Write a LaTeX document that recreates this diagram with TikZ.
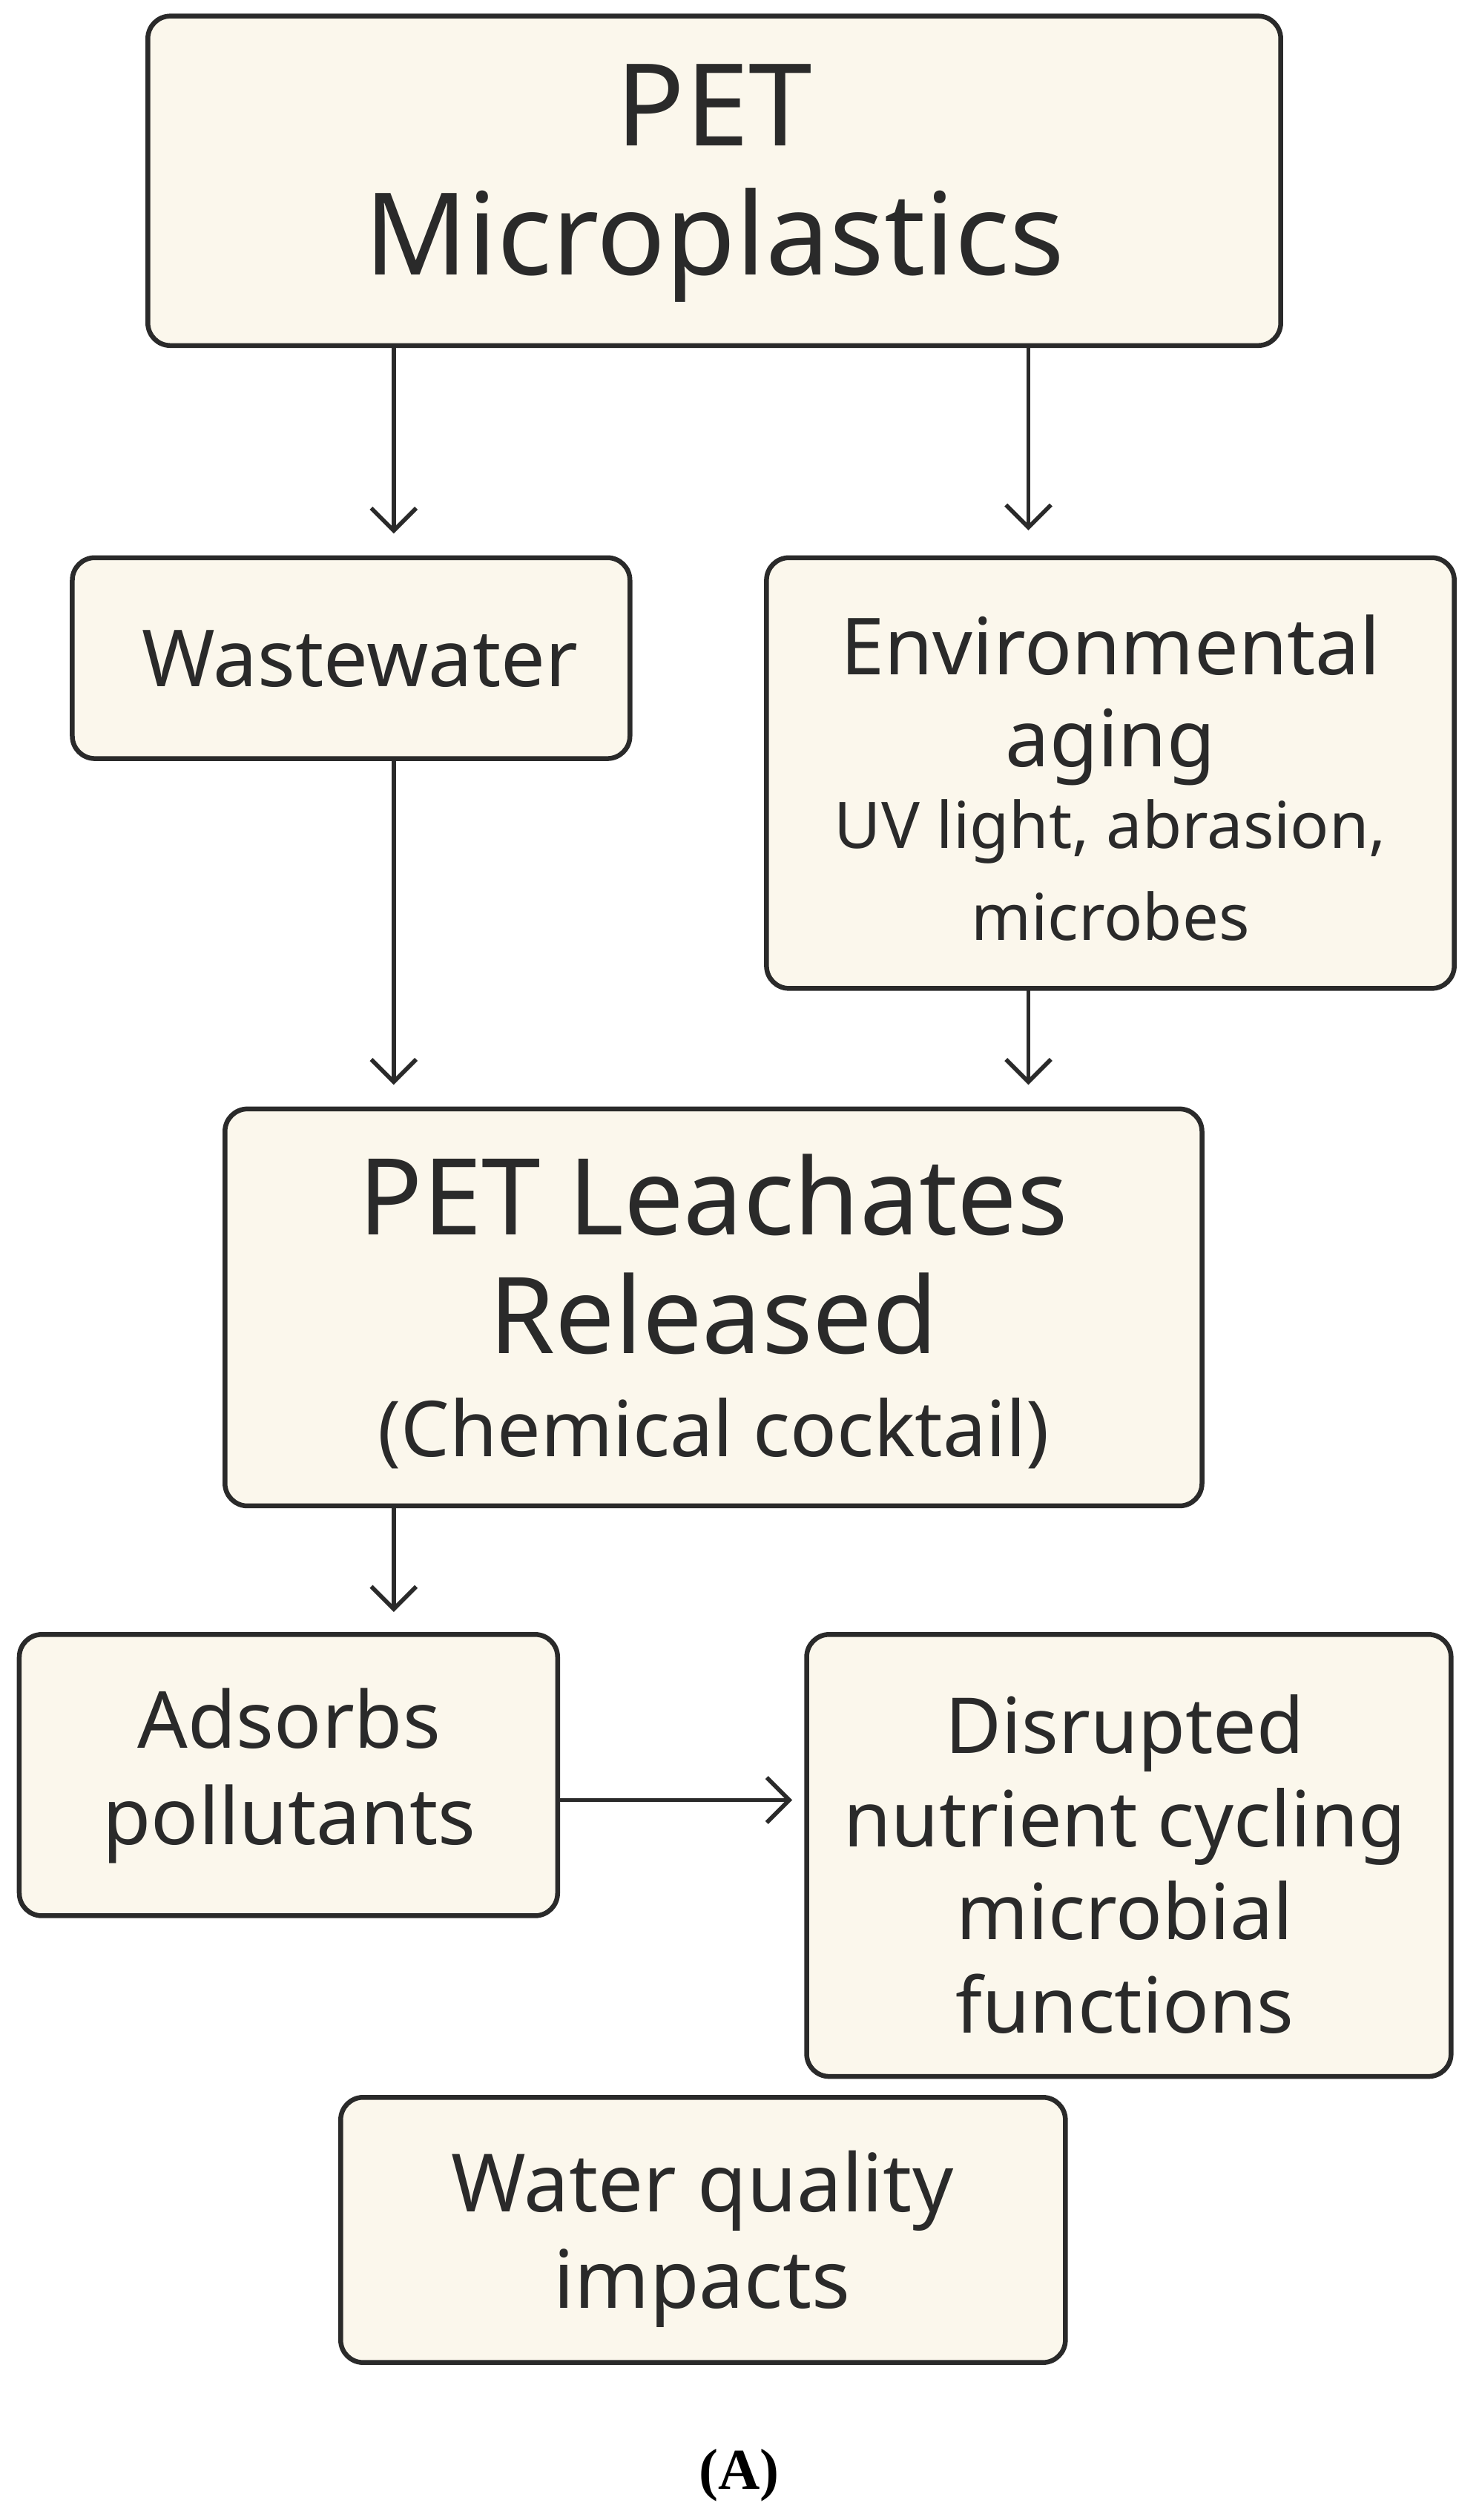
\documentclass[tikz,border=0pt]{standalone}
\usepackage{fontspec}
\setmainfont{Noto Sans}
\usetikzlibrary{arrows.meta}
\definecolor{boxfill}{HTML}{FBF7EC}
\definecolor{ink}{HTML}{2A2A2A}
\newcommand{\smallsz}{\fontsize{40}{50}\selectfont}
\begin{document}
\begin{tikzpicture}[x=1pt,y=-1pt,
  box/.style={draw=ink,line width=3pt,rounded corners=14pt,fill=boxfill},
  lbl/.style={align=center,text=ink},
  arr/.style={draw=ink,line width=2.6pt,-{Straight Barb[length=14pt,width=28pt,line width=2.6pt]}}]
\useasboundingbox (0,0) rectangle (920,1568);
\draw[box] (92,10) rectangle (797,215);
\node[lbl,font=\fontsize{71}{80}\selectfont] (pet) at (444.5,114) {PET\\Microplastics};
\draw[box] (45,347) rectangle (392,472);
\node[lbl,font=\fontsize{49}{55}\selectfont] (ww) at (224,410) {Wastewater};
\draw[box] (477,347) rectangle (905,615);
\node[lbl,font=\fontsize{49}{57}\selectfont] (env) at (691,484) {Environmental\\aging\\[-6pt]\smallsz UV light, abrasion,\\\smallsz microbes};
\draw[box] (140,690) rectangle (748,937);
\node[lbl,font=\fontsize{66}{74}\selectfont] (leach) at (444,816) {PET Leachates\\Released\\[-10pt]\fontsize{48}{60}\selectfont (Chemical cocktail)};
\draw[box] (12,1017) rectangle (347,1192);
\node[lbl,font=\fontsize{49}{60}\selectfont] (ads) at (180,1105) {Adsorbs\\pollutants};
\draw[box] (502,1017) rectangle (903,1292);
\node[lbl,font=\fontsize{48}{58}\selectfont] (dis) at (700,1160) {Disrupted\\nutrient cycling\\microbial\\functions};
\draw[box] (212,1305) rectangle (663,1470);
\node[lbl,font=\fontsize{50}{60}\selectfont] (wq) at (437,1393) {Water quality\\impacts};
\node[font=\fontsize{36}{40}\selectfont] (A) at (460,1540) {\fontspec{Liberation Serif}\bfseries (A)};
\coordinate (p1) at (245,215); \coordinate (w1) at (245,332);
\coordinate (p2) at (640,215); \coordinate (e1) at (640,330);
\coordinate (w2) at (245,472); \coordinate (l1) at (245,675);
\coordinate (e2) at (640,615); \coordinate (l2) at (640,675);
\coordinate (l3) at (245,937); \coordinate (a1) at (245,1003);
\coordinate (a2) at (347,1120); \coordinate (d1) at (493,1120);
\draw[arr] (p1) -- (w1);
\draw[arr] (p2) -- (e1);
\draw[arr] (w2) -- (l1);
\draw[arr] (e2) -- (l2);
\draw[arr] (l3) -- (a1);
\draw[arr] (a2) -- (d1);
\end{tikzpicture}
\end{document}
